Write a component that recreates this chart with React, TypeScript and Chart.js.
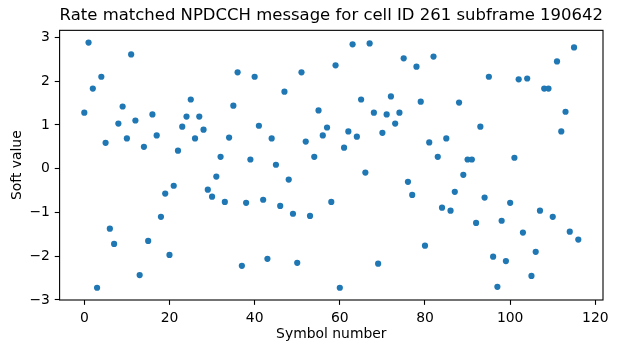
import React, { useEffect, useRef } from 'react';
import { Chart, registerables } from 'chart.js';

Chart.register(...registerables);

const chartTitle = 'Rate matched NPDCCH message for cell ID 261 subframe 190642';
const xLabel = 'Symbol number';
const yLabel = 'Soft value';

const softValues = [
  1.28, 2.88, 1.83, -2.72, 2.10, 0.59, -1.37, -1.72, 1.03, 1.42,
  0.69, 2.61, 1.10, -2.43, 0.50, -1.65, 1.24, 0.76, -1.10, -0.57,
  -1.97, -0.39, 0.41, 0.96, 1.19, 1.58, 0.69, 1.19, 0.89, -0.48,
  -0.64, -0.18, 0.27, -0.76, 0.71, 1.44, 2.20, -2.22, -0.78, 0.21,
  2.10, 0.98, -0.71, -2.06, 0.69, 0.09, -0.85, 1.76, -0.25, -1.03,
  -2.15, 2.20, 0.62, -1.08, 0.27, 1.33, 0.76, 0.94, -0.76, 2.36,
  -2.72, 0.48, 0.85, 2.84, 0.73, 1.58, -0.09, 2.86, 1.28, -2.17,
  0.82, 1.24, 1.65, 1.03, 1.28, 2.52, -0.30, -0.60, 2.33, 1.53,
  -1.76, 0.60, 2.56, 0.27, -0.89, 0.69, -0.96, -0.53, 1.51, -0.14,
  0.21, 0.21, -1.24, 0.96, -0.66, 2.10, -2.01, -2.70, -1.19, -2.11,
  -0.78, 0.25, 2.04, -1.46, 2.06, -2.45, -1.90, -0.96, 1.83, 1.83,
  -1.10, 2.45, 0.85, 1.30, -1.44, 2.77, -1.62,
];

const xTicks = [0, 20, 40, 60, 80, 100, 120];
const yTicks = [-3, -2, -1, 0, 1, 2, 3];
const xRange = [-5.8, 121.8];
const yRange = [-3.0, 3.16];

const FONT = "'DejaVu Sans', sans-serif";

const framePlugin = {
  id: 'frame',
  afterDatasetsDraw(chart: any) {
    const { ctx, chartArea: a } = chart;
    ctx.save();
    ctx.strokeStyle = '#000';
    ctx.lineWidth = 1.1;
    ctx.strokeRect(a.left, a.top, a.right - a.left, a.bottom - a.top);
    ctx.restore();
  },
};

const fmt = (v: number) => String(v).replace('-', '\u2212');

export default function App() {
  const ref = useRef<HTMLCanvasElement | null>(null);

  useEffect(() => {
    document.body.style.margin = '0';
    const canvas = ref.current;
    if (!canvas) return;
    const chart = new Chart(canvas, {
      type: 'scatter',
      data: {
        datasets: [
          {
            data: softValues.map((v, i) => ({ x: i, y: v })),
            backgroundColor: '#1f77b4',
            borderColor: '#1f77b4',
            borderWidth: 0,
            pointRadius: 3.1,
          },
        ],
      },
      options: {
        responsive: false,
        animation: false,
        events: [],
        layout: { padding: { left: 0, right: 14, top: 0, bottom: 0 } },
        plugins: {
          legend: { display: false },
          tooltip: { enabled: false },
          title: {
            display: true,
            text: chartTitle,
            fullSize: false,
            color: '#000',
            font: { family: FONT, size: 16.7, weight: 'normal' },
            padding: { top: 6, bottom: 4.3 },
          },
        },
        scales: {
          x: {
            type: 'linear',
            min: xRange[0],
            max: xRange[1],
            afterBuildTicks: (s: any) => {
              s.ticks = xTicks.map((v) => ({ value: v }));
            },
            afterFit: (s: any) => {
              s.height = 53;
            },
            border: { display: false },
            grid: {
              drawOnChartArea: false,
              drawTicks: true,
              tickLength: 4.86,
              tickColor: '#000',
              tickWidth: 1.1,
            },
            ticks: {
              color: '#000',
              padding: 5,
              maxRotation: 0,
              autoSkip: false,
              font: { family: FONT, size: 13.9 },
              callback: (v: any) => fmt(v),
            },
            title: {
              display: true,
              text: xLabel,
              color: '#000',
              font: { family: FONT, size: 13.9 },
              padding: { top: 4, bottom: 10.2 },
            },
          },
          y: {
            type: 'linear',
            min: yRange[0],
            max: yRange[1],
            afterBuildTicks: (s: any) => {
              s.ticks = yTicks.map((v) => ({ value: v }));
            },
            afterFit: (s: any) => {
              s.width = 59.6;
            },
            border: { display: false },
            grid: {
              drawOnChartArea: false,
              drawTicks: true,
              tickLength: 4.86,
              tickColor: '#000',
              tickWidth: 1.1,
            },
            ticks: {
              color: '#000',
              padding: 4.86,
              autoSkip: false,
              font: { family: FONT, size: 13.9 },
              callback: (v: any) => fmt(v),
            },
            title: {
              display: true,
              text: yLabel,
              color: '#000',
              font: { family: FONT, size: 13.9 },
              padding: { top: 8.7, bottom: 4 },
            },
          },
        },
      },
      plugins: [framePlugin],
    });
    return () => chart.destroy();
  }, []);

  return (
    <div style={{ position: 'absolute', left: 0, top: 0, width: 617, height: 353 }}>
      <canvas ref={ref} width={617} height={353} style={{ display: 'block', width: 617, height: 353 }} />
    </div>
  );
}
